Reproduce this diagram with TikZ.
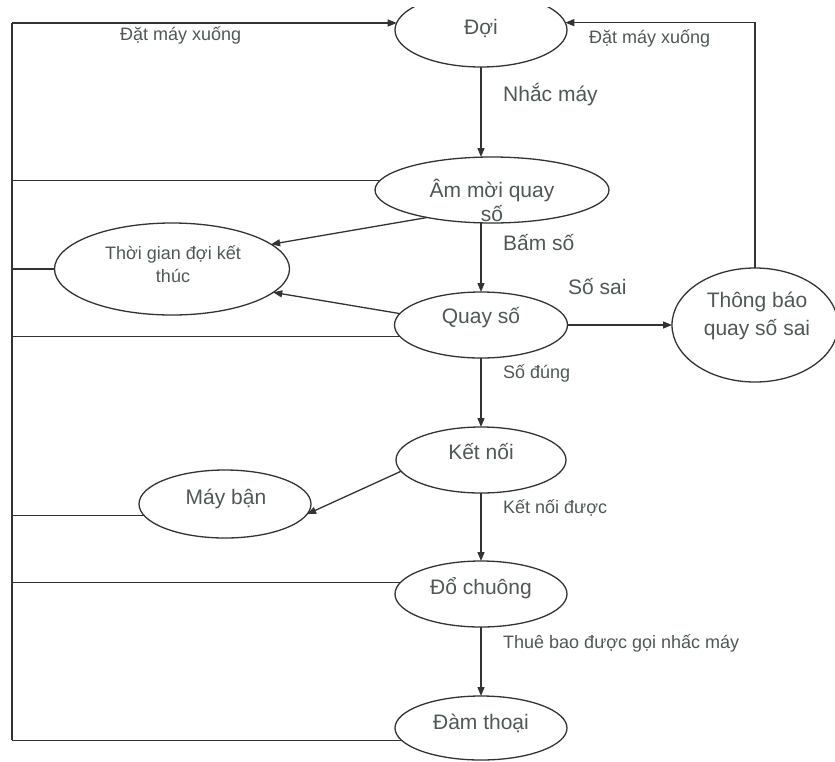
\documentclass[tikz,border=0pt]{standalone}
\usepackage{fontspec}
\setmainfont{Liberation Sans}
\usetikzlibrary{arrows.meta,shapes.geometric}
\definecolor{lc}{HTML}{333333}
\definecolor{tc}{HTML}{4F5757}
\begin{document}
\begin{tikzpicture}[x=1pt,y=-1pt,
  st/.style={draw=lc, line width=1.3pt, ellipse, inner sep=0pt, outer sep=0pt},
  tx/.style={text=tc, inner sep=0pt, align=center, font=\fontsize{21}{24}\selectfont},
  el/.style={text=tc, inner sep=0pt, anchor=west, font=\fontsize{21}{24}\selectfont},
  els/.style={el, font=\fontsize{18}{21}\selectfont},
  ln/.style={draw=lc, line width=1.3pt},
  arr/.style={ln, -{Triangle[length=9pt,width=7pt]}}]
\useasboundingbox (0,0) rectangle (835,761);
\begin{scope}
\clip (0,7) rectangle (835,761);
% states
\node[st, minimum width=172pt, minimum height=74pt] (doi) at (481,30) {};
\node[st, minimum width=234pt, minimum height=66pt] (am) at (492,190) {};
\node[st, minimum width=235pt, minimum height=92pt] (thoi) at (172,269) {};
\node[st, minimum width=173pt, minimum height=66pt] (quay) at (481,325) {};
\node[st, minimum width=166pt, minimum height=114pt] (tb) at (755,325) {};
\node[st, minimum width=170pt, minimum height=66pt] (ket) at (481,460) {};
\node[st, minimum width=172pt, minimum height=68pt] (may) at (225,504) {};
\node[st, minimum width=172pt, minimum height=66pt] (dochuong) at (481,594) {};
\node[st, minimum width=172pt, minimum height=64pt] (dam) at (481,728) {};
% state texts
\node[tx] (doiT) at (481,28) {Đợi};
\node[tx] (amT) at (492,200) {Âm mời quay\\số};
\node[tx, font=\fontsize{18}{23}\selectfont] (thoiT) at (173,264) {Thời gian đợi kết\\thúc};
\node[tx] (quayT) at (481,318) {Quay số};
\node[tx, font=\fontsize{21}{28}\selectfont] (tbT) at (757,316) {Thông báo\\quay số sai};
\node[tx] (ketT) at (481,452) {Kết nối};
\node[tx] (mayT) at (226,499) {Máy bận};
\node[tx] (doT) at (481,588) {Đổ chuông};
\node[tx] (damT) at (481,723) {Đàm thoại};
% edge labels
\node[els] (l1) at (120,35) {Đặt máy xuống};
\node[els] (l2) at (589,38) {Đặt máy xuống};
\node[el] (l3) at (503,95) {Nhắc máy};
\node[el] (l4) at (503,243) {Bấm số};
\node[el] (l5) at (568,287) {Số sai};
\node[els] (l6) at (503,373) {Số đúng};
\node[els] (l7) at (503,508) {Kết nối được};
\node[els] (l8) at (503,643) {Thuê bao được gọi nhấc máy};
% left return trunk
\coordinate (tTop) at (12,23);
\coordinate (tBot) at (12,740);
\draw[ln] (tTop) -- (tBot);
\draw[arr] (tTop) -- (tTop -| doi.175);
\draw[ln] (am.175) -- (am.175 -| tTop);
\draw[ln] (thoi.west) -- (thoi.west -| tTop);
\draw[ln] (quay.188) -- (quay.188 -| tTop);
\draw[ln] (may.188) -- (may.188 -| tTop);
\draw[ln] (dochuong.172) -- (dochuong.172 -| tTop);
\draw[ln] (dam.189) -- (dam.189 -| tTop);
% right return
\draw[arr] (tb.north) |- (doi.5);
% main flow
\draw[arr] (doi.south) -- (doi.south |- am.north);
\draw[arr] (am.south -| quay.north) -- (quay.north);
\draw[arr] (am.203) -- (thoi.14);
\draw[arr] (quay.172) -- (thoi.347);
\draw[arr] (quay.east) -- (tb.west);
\draw[arr] (quay.south) -- (ket.north);
\draw[arr] (ket.188) -- (may.353);
\draw[arr] (ket.south) -- (dochuong.north);
\draw[arr] (dochuong.south) -- (dam.north);
\end{scope}
\end{tikzpicture}
\end{document}
